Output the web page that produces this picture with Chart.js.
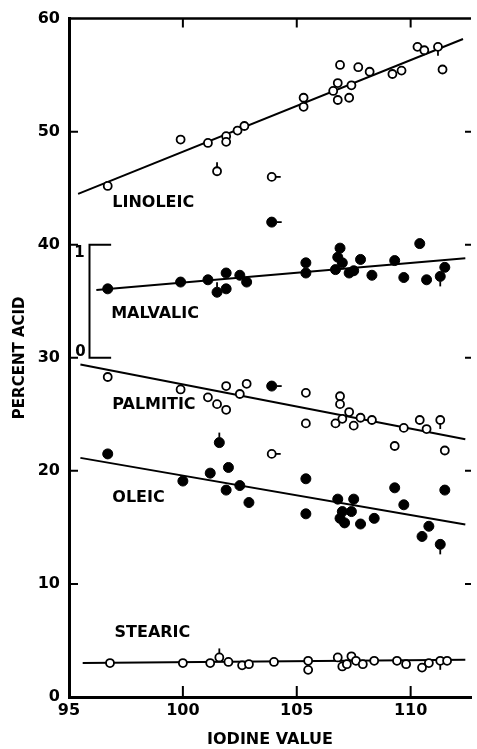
<!DOCTYPE html>
<html>
<head>
<meta charset="utf-8">
<script src="https://cdn.jsdelivr.net/npm/chart.js@4.4.1/dist/chart.umd.min.js"></script>
<style>
  html, body { margin: 0; padding: 0; background: #fff; }
  canvas { display: block; }
</style>
</head>
<body>
<canvas id="acid-chart" width="477" height="749"></canvas>
<script>
// Fatty acid composition vs iodine value.

const xTickValues = [95, 100, 105, 110];
const yTickValues = [0, 10, 20, 30, 40, 50, 60];

const linoleicX = [96.7, 99.9, 101.1, 101.5, 101.9, 101.9, 102.4, 102.7, 103.9, 105.3, 105.3, 106.6, 106.8, 106.9, 106.8, 107.3, 107.4, 107.7, 108.2, 109.2, 109.6, 110.3, 110.6, 111.2, 111.4];
const linoleicY = [45.2, 49.3, 49.0, 46.5, 49.6, 49.1, 50.1, 50.5, 46.0, 53.0, 52.2, 53.6, 54.3, 55.9, 52.8, 53.0, 54.1, 55.7, 55.3, 55.1, 55.4, 57.5, 57.2, 57.5, 55.5];
const linoleicFitX = [95.4, 112.3];
const linoleicFitY = [44.5, 58.2];

// malvalic is on its own 0..1 scale (the bracket), 0 -> 30 and 1 -> 40 on the main axis
const malvalicX = [96.7, 99.9, 101.1, 101.5, 101.9, 101.9, 102.5, 102.8, 103.9, 105.4, 105.4, 106.7, 106.8, 106.9, 107.0, 107.3, 107.5, 107.8, 108.3, 109.3, 109.7, 110.4, 110.7, 111.3, 111.5];
const malvalicY = [0.61, 0.67, 0.69, 0.58, 0.75, 0.61, 0.73, 0.67, 1.20, 0.84, 0.75, 0.78, 0.89, 0.97, 0.84, 0.75, 0.77, 0.87, 0.73, 0.86, 0.71, 1.01, 0.69, 0.72, 0.80];
const malvalicFitX = [96.2, 112.4];
const malvalicFitY = [0.60, 0.88];

const palmiticX = [96.7, 99.9, 101.1, 101.5, 101.9, 101.9, 102.5, 102.8, 103.9, 105.4, 105.4, 106.7, 106.9, 106.9, 107.0, 107.3, 107.5, 107.8, 108.3, 109.3, 109.7, 110.4, 110.7, 111.3, 111.5];
const palmiticY = [28.3, 27.2, 26.5, 25.9, 25.4, 27.5, 26.8, 27.7, 21.5, 26.9, 24.2, 24.2, 26.6, 25.9, 24.6, 25.2, 24.0, 24.7, 24.5, 22.2, 23.8, 24.5, 23.7, 24.5, 21.8];
const palmiticFitX = [95.5, 112.4];
const palmiticFitY = [29.4, 22.8];

const oleicX = [96.7, 100.0, 101.2, 101.6, 102.0, 101.9, 102.5, 102.9, 103.9, 105.4, 105.4, 106.8, 107.5, 107.0, 106.9, 107.1, 107.4, 107.8, 108.4, 109.3, 109.7, 110.5, 110.8, 111.3, 111.5];
const oleicY = [21.5, 19.1, 19.8, 22.5, 20.3, 18.3, 18.7, 17.2, 27.5, 19.3, 16.2, 17.5, 17.5, 16.4, 15.8, 15.4, 16.4, 15.3, 15.8, 18.5, 17.0, 14.2, 15.1, 13.5, 18.3];
const oleicFitX = [95.5, 112.4];
const oleicFitY = [21.15, 15.25];

const stearicX = [96.8, 100.0, 101.2, 101.6, 102.0, 102.6, 102.9, 104.0, 105.5, 105.5, 106.8, 107.0, 107.2, 107.4, 107.6, 107.9, 108.4, 109.4, 109.8, 110.5, 110.8, 111.3, 111.6];
const stearicY = [3.0, 3.0, 3.0, 3.5, 3.1, 2.8, 2.9, 3.1, 3.2, 2.4, 3.5, 2.7, 2.9, 3.6, 3.2, 2.9, 3.2, 3.2, 2.9, 2.6, 3.0, 3.2, 3.2];
const stearicFitX = [95.6, 112.4];
const stearicFitY = [3.0, 3.3];

// little tails on the marked sample points (index -> direction)
const linoleicSpurs = { 3: 'up', 8: 'right', 23: 'down' };
const malvalicSpurs = { 3: 'up', 8: 'right', 23: 'down' };
const palmiticSpurs = { 8: 'right', 23: 'down' };
const oleicSpurs = { 3: 'up', 8: 'right', 23: 'down' };
const stearicSpurs = { 3: 'up', 21: 'down' };

const FONT = "'DejaVu Sans', Verdana, sans-serif";

function pts(xs, ys) {
    return xs.map((x, i) => ({ x: x, y: ys[i] }));
}

function scatterSet(label, xs, ys, filled, spurs, axis) {
    return {
        type: 'scatter',
        label: label,
        data: pts(xs, ys),
        yAxisID: axis || 'y',
        pointRadius: filled ? 5 : 4,
        pointBorderWidth: filled ? 1 : 1.8,
        pointBorderColor: '#000',
        pointBackgroundColor: filled ? '#000' : '#fff',
        spurs: spurs,
        order: 0
    };
}

function fitSet(xs, ys, axis) {
    return {
        type: 'line',
        label: 'fit',
        data: pts(xs, ys),
        yAxisID: axis || 'y',
        borderColor: '#000',
        borderWidth: 2,
        pointRadius: 0,
        fill: false,
        order: 1
    };
}

const seriesLabels = [
    { text: 'LINOLEIC', x: 96.9, y: 43.7 },
    { text: 'MALVALIC', x: 96.85, y: 33.9 },
    { text: 'PALMITIC', x: 96.9, y: 25.8 },
    { text: 'OLEIC', x: 96.9, y: 17.65 },
    { text: 'STEARIC', x: 97.0, y: 5.65 }
];

const decorations = {
    id: 'decorations',
    afterDatasetsDraw(chart) {
        const c = chart.ctx;
        const area = chart.chartArea;
        const xs = chart.scales.x;
        const ys = chart.scales.y;
        const y2 = chart.scales.y2;
        c.save();
        c.strokeStyle = '#000';
        c.fillStyle = '#000';
        c.lineCap = 'butt';

        // top frame line
        c.lineWidth = 2.5;
        c.beginPath();
        c.moveTo(area.left, area.top);
        c.lineTo(area.right, area.top);
        c.stroke();

        // inward tick marks
        c.lineWidth = 2;
        xTickValues.forEach(v => {
            if (v === xs.min) return;
            const px = xs.getPixelForValue(v);
            c.beginPath();
            c.moveTo(px, area.bottom);
            c.lineTo(px, area.bottom - 11);
            c.moveTo(px, area.top);
            c.lineTo(px, area.top + 9);
            c.stroke();
        });
        yTickValues.forEach(v => {
            if (v === ys.min || v === ys.max) return;
            const py = ys.getPixelForValue(v);
            c.beginPath();
            c.moveTo(area.left, py);
            c.lineTo(area.left + 9, py);
            c.moveTo(area.right, py);
            c.lineTo(area.right - 6, py);
            c.stroke();
        });

        // spurs on marked points
        c.lineWidth = 1.8;
        chart.data.datasets.forEach((ds, di) => {
            if (!ds.spurs) return;
            const meta = chart.getDatasetMeta(di);
            Object.keys(ds.spurs).forEach(k => {
                const p = meta.data[+k];
                if (!p) return;
                const r = ds.pointRadius;
                const d = ds.spurs[k];
                c.beginPath();
                if (d === 'up') { c.moveTo(p.x, p.y - r); c.lineTo(p.x, p.y - r - 5); }
                if (d === 'down') { c.moveTo(p.x, p.y + r); c.lineTo(p.x, p.y + r + 5); }
                if (d === 'right') { c.moveTo(p.x + r, p.y); c.lineTo(p.x + r + 5, p.y); }
                c.stroke();
            });
        });

        // malvalic bracket with its 0 and 1 marks
        const bx = xs.getPixelForValue(95.9);
        const bx2 = xs.getPixelForValue(96.85);
        const b1 = y2.getPixelForValue(1);
        const b0 = y2.getPixelForValue(0);
        c.lineWidth = 2;
        c.beginPath();
        c.moveTo(bx2, b1);
        c.lineTo(bx, b1);
        c.lineTo(bx, b0);
        c.lineTo(bx2, b0);
        c.stroke();
        c.font = 'bold 15px ' + FONT;
        c.textAlign = 'center';
        c.textBaseline = 'middle';
        c.fillText('1', bx - 10, b1 + 8);
        c.fillText('0', bx - 9, b0 - 6);

        // series names
        c.font = 'bold 16px ' + FONT;
        c.textAlign = 'left';
        seriesLabels.forEach(l => {
            c.fillText(l.text, xs.getPixelForValue(l.x), ys.getPixelForValue(l.y));
        });
        c.restore();
    }
};

const ctx = document.getElementById('acid-chart').getContext('2d');

new Chart(ctx, {
    data: {
        datasets: [
            fitSet(linoleicFitX, linoleicFitY),
            fitSet(malvalicFitX, malvalicFitY, 'y2'),
            fitSet(palmiticFitX, palmiticFitY),
            fitSet(oleicFitX, oleicFitY),
            fitSet(stearicFitX, stearicFitY),
            scatterSet('Linoleic', linoleicX, linoleicY, false, linoleicSpurs),
            scatterSet('Malvalic', malvalicX, malvalicY, true, malvalicSpurs, 'y2'),
            scatterSet('Palmitic', palmiticX, palmiticY, false, palmiticSpurs),
            scatterSet('Oleic', oleicX, oleicY, true, oleicSpurs),
            scatterSet('Stearic', stearicX, stearicY, false, stearicSpurs)
        ]
    },
    options: {
        responsive: false,
        animation: false,
        layout: { padding: { top: 16, right: -2, left: 0, bottom: 0 } },
        plugins: {
            legend: { display: false },
            tooltip: { enabled: false }
        },
        scales: {
            x: {
                type: 'linear',
                position: 'bottom',
                min: 95,
                max: 112.65,
                afterBuildTicks: s => { s.ticks = xTickValues.map(v => ({ value: v })); },
                afterFit: s => { s.height = 52; },
                grid: { display: false, drawTicks: false },
                border: { display: true, width: 3, color: '#000' },
                ticks: {
                    color: '#000',
                    padding: 4,
                    maxRotation: 0,
                    autoSkip: false,
                    font: { family: FONT, size: 16, weight: 'bold' }
                },
                title: {
                    display: true,
                    text: 'IODINE VALUE',
                    color: '#000',
                    padding: { top: 0, bottom: 0 },
                    font: { family: FONT, size: 16, weight: 'bold' }
                }
            },
            y: {
                type: 'linear',
                position: 'left',
                min: 0,
                max: 60,
                afterBuildTicks: s => { s.ticks = yTickValues.map(v => ({ value: v })); },
                afterFit: s => { s.width = 69; },
                grid: { display: false, drawTicks: false },
                border: { display: true, width: 3, color: '#000' },
                ticks: {
                    color: '#000',
                    padding: 9,
                    autoSkip: false,
                    font: { family: FONT, size: 16, weight: 'bold' }
                },
                title: {
                    display: true,
                    text: 'PERCENT ACID',
                    color: '#000',
                    padding: { top: 11, bottom: 0 },
                    font: { family: FONT, size: 15, weight: 'bold' }
                }
            },
            y2: {
                type: 'linear',
                display: false,
                min: -3,
                max: 3
            }
        }
    },
    plugins: [decorations]
});
</script>
</body>
</html>
